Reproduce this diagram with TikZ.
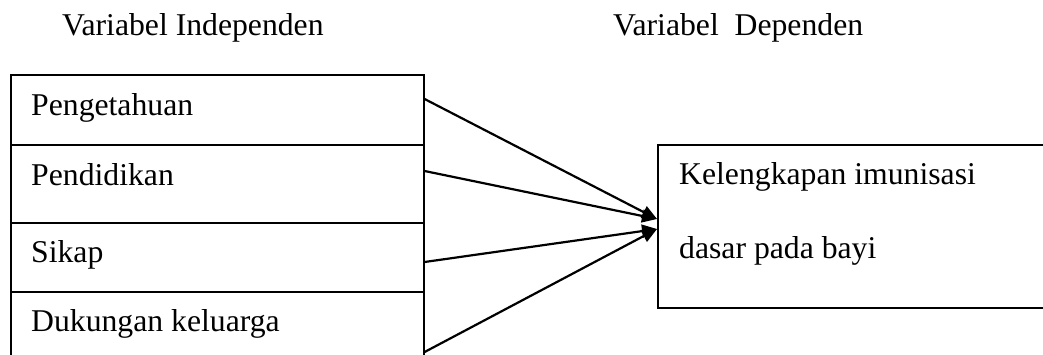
\documentclass[tikz,border=0pt]{standalone}
\usepackage{fontspec}
\setmainfont{Liberation Serif}
\usetikzlibrary{arrows.meta}
\begin{document}
\begin{tikzpicture}[x=1pt,y=-1pt,
  box/.style={draw, line width=1.6pt, inner sep=0pt, anchor=north west},
  lbl/.style={anchor=base west, inner sep=0pt, font=\fontsize{31.7}{38}\selectfont},
  conn/.style={line width=2.2pt, -{Triangle[length=15pt,width=13pt]}}]
\useasboundingbox (0,0) rectangle (1043,354);
\clip (0,0) rectangle (1043,354);
% left boxes
\node[box, minimum width=413pt, minimum height=70pt] (b1) at (10,74) {};
\node[box, minimum width=413pt, minimum height=78pt] (b2) at (10,144) {};
\node[box, minimum width=413pt, minimum height=69pt] (b3) at (10,222) {};
\node[box, minimum width=413pt, minimum height=90pt] (b4) at (10,291) {};
% right box
\node[box, minimum width=420pt, minimum height=163pt] (r) at (657,144) {};
% texts
\node[lbl] (t0) at (62,35) {Variabel Independen};
\node[lbl] (t00) at (613,35) {Variabel\ \ Dependen};
\node[lbl] (t1) at (31,115) {Pengetahuan};
\node[lbl] (t2) at (31,185) {Pendidikan};
\node[lbl] (t3) at (31,262) {Sikap};
\node[lbl] (t4) at (31,331) {Dukungan keluarga};
\node[lbl] (t5) at (679,184) {Kelengkapan imunisasi};
\node[lbl] (t6) at (679,258) {dasar pada bayi};
% connector endpoints
\coordinate (s1) at (b1.east |- 0,99);
\coordinate (s2) at (b2.east |- 0,171);
\coordinate (s3) at (b3.east |- 0,262);
\coordinate (s4) at (b4.east |- 0,352);
\coordinate (e1) at (r.west |- 0,219);
\coordinate (e2) at (r.west |- 0,229);
\draw[conn] (s1) -- (e1);
\draw[conn] (s2) -- (e1);
\draw[conn] (s3) -- (e2);
\draw[conn] (s4) -- (e2);
\end{tikzpicture}
\end{document}
